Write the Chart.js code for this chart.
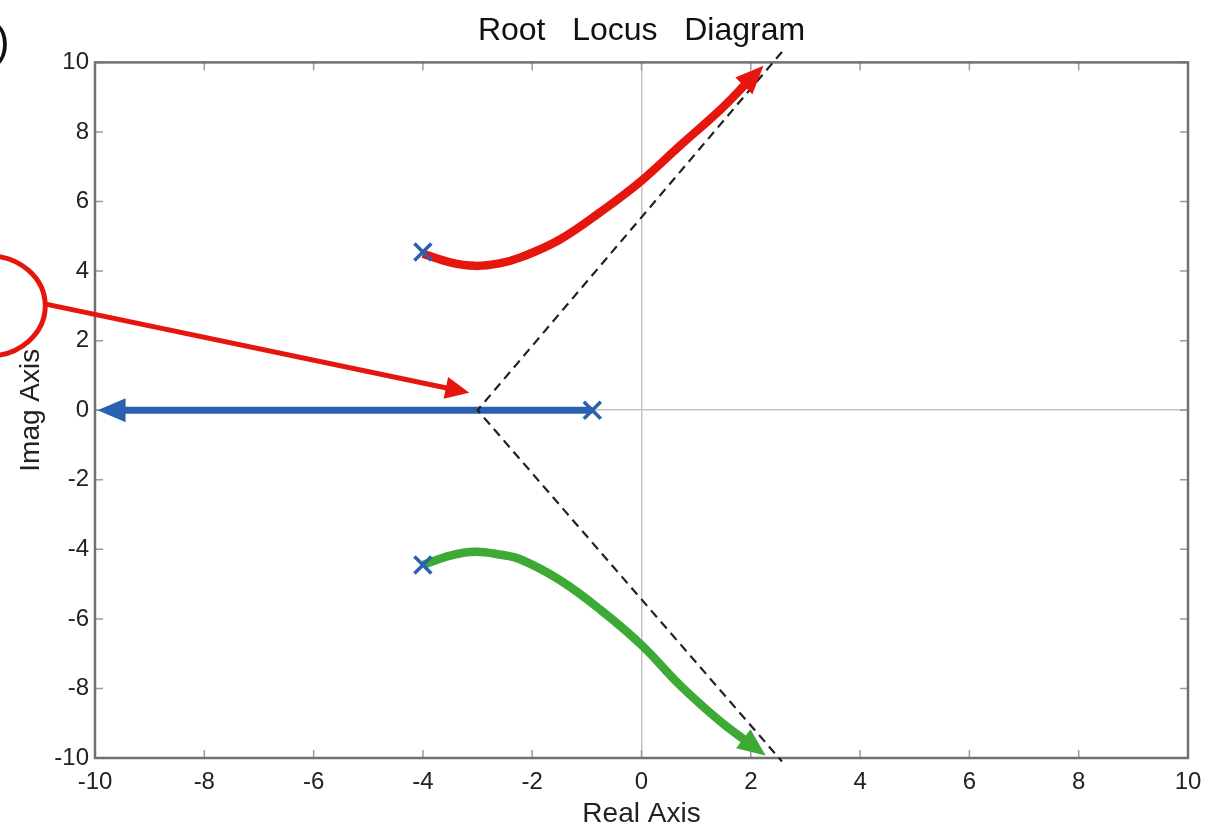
<!DOCTYPE html>
<html>
<head>
<meta charset="utf-8">
<script src="https://cdn.jsdelivr.net/npm/chart.js@4"></script>
<style>
  html, body { margin: 0; background: #fff; }
</style>
</head>
<body>
<canvas id="locus" width="1205" height="831"></canvas>
<script>
// axis ticks (both axes)
const tickVals = [-10, -8, -6, -4, -2, 0, 2, 4, 6, 8, 10];

// upper branch (red)
const redRe = [-4.0, -3.5, -3.05, -2.6, -2.2, -1.5, -0.75, 0.0, 0.7, 1.45, 1.95];
const redIm = [4.5, 4.25, 4.15, 4.22, 4.4, 4.9, 5.7, 6.6, 7.6, 8.65, 9.45];

// lower branch (green)
const greenRe = [-4.0, -3.5, -3.05, -2.6, -2.2, -1.5, -0.75, 0.0, 0.7, 1.45, 1.95];
const greenIm = [-4.45, -4.18, -4.07, -4.15, -4.3, -4.88, -5.74, -6.75, -7.9, -8.96, -9.55];

// real-axis branch (blue)
const blueRe = [-0.9, -9.55];
const blueIm = [0, 0];

// open-loop poles
const poleRe = [-4.0, -4.0, -0.9];
const poleIm = [4.55, -4.45, 0];

// asymptotes through the centroid
const asymRe = [2.57, -3.0, 2.57];
const asymIm = [10.3, 0, -10.1];

// hand-drawn note: circle on the left, arrow pointing at the centroid
const noteCircle = { x: -11.95, y: 3.0, rx: 1.04, ry: 1.44 };
const noteFrom = { x: -10.9, y: 3.05 };
const noteTo = { x: -3.15, y: 0.5 };

const pts = (re, im) => re.map((v, i) => ({ x: v, y: im[i] }));

const RED = '#e5160d';
const GREEN = '#3caa34';
const BLUE = '#2a61b0';

function arrowHead(ctx, x0, y0, x1, y1, len, half, back, color) {
  const dx = x1 - x0, dy = y1 - y0;
  const d = Math.hypot(dx, dy);
  const ux = dx / d, uy = dy / d;
  const tx = x1 + ux * len, ty = y1 + uy * len;
  const bx = x1 - ux * back, by = y1 - uy * back;
  ctx.fillStyle = color;
  ctx.beginPath();
  ctx.moveTo(tx, ty);
  ctx.lineTo(bx - uy * half, by + ux * half);
  ctx.lineTo(bx + uy * half, by - ux * half);
  ctx.closePath();
  ctx.fill();
}

const decor = {
  id: 'decor',
  beforeDatasetsDraw(chart) {
    const { ctx, chartArea: a, scales: { x, y } } = chart;
    ctx.save();
    ctx.strokeStyle = '#9a9a9a';
    ctx.lineWidth = 1.5;
    tickVals.forEach(v => {
      const px = x.getPixelForValue(v), py = y.getPixelForValue(v);
      ctx.beginPath();
      ctx.moveTo(px, a.bottom); ctx.lineTo(px, a.bottom - 8);
      ctx.moveTo(px, a.top); ctx.lineTo(px, a.top + 8);
      ctx.moveTo(a.left, py); ctx.lineTo(a.left + 8, py);
      ctx.moveTo(a.right, py); ctx.lineTo(a.right - 8, py);
      ctx.stroke();
    });
    ctx.strokeStyle = '#707070';
    ctx.lineWidth = 2.5;
    ctx.strokeRect(a.left, a.top, a.right - a.left, a.bottom - a.top);
    ctx.restore();
  },
  afterDatasetsDraw(chart) {
    const { ctx, scales: { x, y } } = chart;
    ctx.save();
    [[redRe, redIm, RED], [greenRe, greenIm, GREEN], [blueRe, blueIm, BLUE]].forEach(([re, im, c]) => {
      const n = re.length;
      arrowHead(ctx,
        x.getPixelForValue(re[n - 2]), y.getPixelForValue(im[n - 2]),
        x.getPixelForValue(re[n - 1]), y.getPixelForValue(im[n - 1]),
        22, 12, 6, c);
    });
    ctx.restore();
  },
  afterDraw(chart) {
    const { ctx, scales: { x, y } } = chart;
    ctx.save();
    // red note ellipse
    const cx = x.getPixelForValue(noteCircle.x), cy = y.getPixelForValue(noteCircle.y);
    const rx = Math.abs(x.getPixelForValue(noteCircle.x + noteCircle.rx) - cx);
    const ry = Math.abs(y.getPixelForValue(noteCircle.y + noteCircle.ry) - cy);
    ctx.strokeStyle = RED;
    ctx.lineWidth = 5;
    ctx.beginPath();
    ctx.ellipse(cx, cy, rx, ry, 0, 0, Math.PI * 2);
    ctx.stroke();
    // note arrow
    const x0 = x.getPixelForValue(noteFrom.x), y0 = y.getPixelForValue(noteFrom.y);
    const x1 = x.getPixelForValue(noteTo.x), y1 = y.getPixelForValue(noteTo.y);
    const d = Math.hypot(x1 - x0, y1 - y0);
    const ex = x1 - (x1 - x0) / d * 22, ey = y1 - (y1 - y0) / d * 22;
    ctx.lineWidth = 5;
    ctx.beginPath();
    ctx.moveTo(x0, y0);
    ctx.lineTo(ex, ey);
    ctx.stroke();
    arrowHead(ctx, x0, y0, ex, ey, 22, 11, 2, RED);
    // leftover bracket from the cropped page
    ctx.fillStyle = '#111';
    ctx.font = '44px "Liberation Sans", Arial, sans-serif';
    ctx.textBaseline = 'alphabetic';
    ctx.fillText(')', -5, 56);
    ctx.restore();
  }
};

const tickFont = { family: '"Liberation Sans", Arial, sans-serif', size: 24 };
const zeroGrid = c => (c.tick && c.tick.value === 0 ? '#c4c4c4' : 'rgba(0,0,0,0)');

new Chart(document.getElementById('locus'), {
  type: 'scatter',
  data: {
    datasets: [
      {
        data: pts(poleRe, poleIm), showLine: false, order: 0,
        pointStyle: 'crossRot', pointRadius: 12, borderColor: BLUE, borderWidth: 3.5
      },
      {
        data: pts(asymRe, asymIm), showLine: true, order: 1, clip: false,
        borderColor: '#222', borderWidth: 2.2, borderDash: [9, 6], pointRadius: 0, tension: 0
      },
      {
        data: pts(redRe, redIm), showLine: true, order: 2,
        borderColor: RED, borderWidth: 8.5, pointRadius: 0, tension: 0.4
      },
      {
        data: pts(greenRe, greenIm), showLine: true, order: 2,
        borderColor: GREEN, borderWidth: 8.5, pointRadius: 0, tension: 0.4
      },
      {
        data: pts(blueRe, blueIm), showLine: true, order: 3,
        borderColor: BLUE, borderWidth: 7, pointRadius: 0
      }
    ]
  },
  options: {
    responsive: false,
    animation: false,
    layout: { padding: { left: 0, right: 17, top: 0, bottom: 0 } },
    plugins: {
      legend: { display: false },
      tooltip: { enabled: false },
      title: {
        display: true,
        fullSize: false,
        text: 'Root   Locus   Diagram',
        color: '#111',
        font: { family: '"Liberation Sans", Arial, sans-serif', size: 32, weight: 'normal' },
        padding: { top: 12, bottom: 12 }
      }
    },
    scales: {
      x: {
        type: 'linear', min: -10, max: 10,
        afterBuildTicks: s => { s.ticks = tickVals.map(v => ({ value: v })); },
        afterFit: s => { s.height = 73; s.paddingRight = 0; s.paddingLeft = 0; },
        grid: { drawTicks: false, color: zeroGrid, lineWidth: 1.5 },
        border: { display: false },
        ticks: { color: '#222', font: tickFont, padding: 10, maxRotation: 0 },
        title: {
          display: true, text: 'Real Axis', color: '#222',
          font: { family: '"Liberation Sans", Arial, sans-serif', size: 28 },
          padding: { top: 0, bottom: 0 }
        }
      },
      y: {
        type: 'linear', min: -10, max: 10,
        afterBuildTicks: s => { s.ticks = tickVals.map(v => ({ value: v })); },
        afterFit: s => { s.width = 95; },
        grid: { drawTicks: false, color: zeroGrid, lineWidth: 1.5 },
        border: { display: false },
        ticks: { color: '#222', font: tickFont, padding: 6 },
        title: {
          display: true, text: 'Imag Axis', color: '#222',
          font: { family: '"Liberation Sans", Arial, sans-serif', size: 28 },
          padding: { top: 14, bottom: 0 }
        }
      }
    }
  },
  plugins: [decor]
});
</script>
</body>
</html>
